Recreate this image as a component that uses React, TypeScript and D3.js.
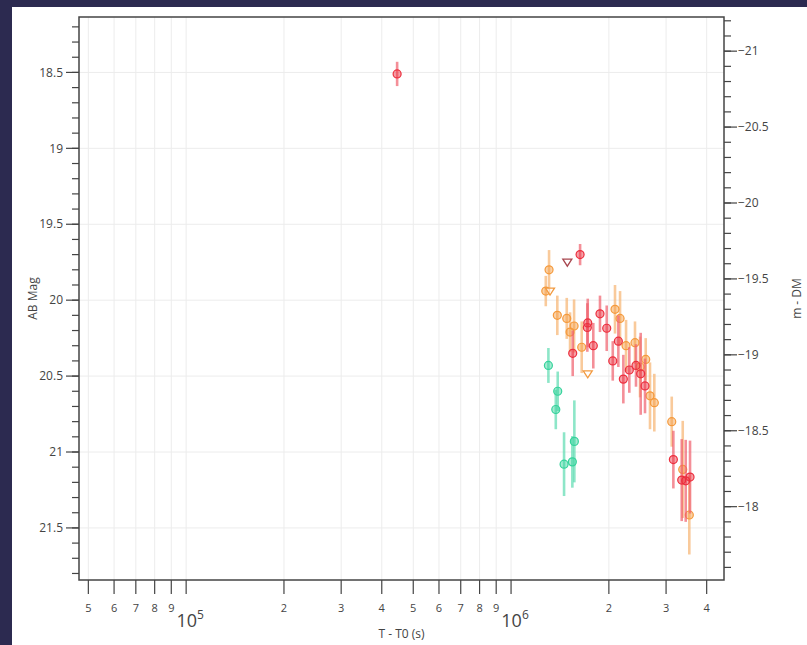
import React from 'react';
import * as d3 from 'd3';

// ---- data (T - T0 in seconds, AB magnitude, 1-sigma error) ----
const redT = [4.46e5, 1.631e6, 1.548e6, 1.722e6, 1.717e6, 1.791e6, 1.878e6, 1.97e6, 2.056e6, 2.139e6, 2.216e6, 2.312e6, 2.424e6, 2.506e6, 2.584e6, 3.159e6, 3.352e6, 3.448e6, 3.555e6];
const redMag = [18.51, 19.7, 20.35, 20.15, 20.18, 20.3, 20.09, 20.185, 20.4, 20.27, 20.52, 20.46, 20.43, 20.485, 20.565, 21.05, 21.185, 21.19, 21.165];
const redErr = [0.08, 0.07, 0.15, 0.16, 0.16, 0.15, 0.12, 0.15, 0.13, 0.17, 0.16, 0.15, 0.14, 0.27, 0.18, 0.19, 0.27, 0.27, 0.24];

const orangeT = [1.309e6, 1.279e6, 1.388e6, 1.484e6, 1.519e6, 1.563e6, 1.65e6, 2.089e6, 2.165e6, 2.259e6, 2.407e6, 2.494e6, 2.597e6, 2.677e6, 2.76e6, 3.123e6, 3.376e6, 3.537e6];
const orangeMag = [19.8, 19.94, 20.1, 20.12, 20.21, 20.17, 20.31, 20.06, 20.12, 20.3, 20.28, 20.44, 20.39, 20.63, 20.675, 20.8, 21.115, 21.415];
const orangeErr = [0.13, 0.1, 0.13, 0.135, 0.13, 0.175, 0.17, 0.16, 0.18, 0.17, 0.14, 0.2, 0.14, 0.22, 0.19, 0.165, 0.32, 0.26];

const tealT = [1.303e6, 1.392e6, 1.373e6, 1.566e6, 1.544e6, 1.456e6];
const tealMag = [20.43, 20.6, 20.72, 20.93, 21.065, 21.08];
const tealErr = [0.115, 0.13, 0.13, 0.27, 0.17, 0.21];

// upper limits (downward triangles)
const redLimT = [1.49e6];
const redLimMag = [19.75];
const orangeLimT = [1.318e6, 1.722e6];
const orangeLimMag = [19.94, 20.485];

// axes
const DM = 39.36;
const yTicks = [18.5, 19, 19.5, 20, 20.5, 21, 21.5];
const y2Ticks = [-21, -20.5, -20, -19.5, -19, -18.5, -18];
const xTicks = [5e4, 6e4, 7e4, 8e4, 9e4, 1e5, 2e5, 3e5, 4e5, 5e5, 6e5, 7e5, 8e5, 9e5, 1e6, 2e6, 3e6, 4e6];

const W = 807, H = 645;
const L = 79, R = 724, T = 17, B = 580;
const FONT = '"Open Sans", "DejaVu Sans", sans-serif';
const TXT = '#444';

const x = d3.scaleLog().domain([Math.pow(10, 4.6702), Math.pow(10, 6.6554)]).range([L, R]);
const y = d3.scaleLinear().domain([18.135, 21.843]).range([T, B]);
const y2 = d3.scaleLinear().domain([18.135 - DM, 21.843 - DM]).range([T, B]);

function minorTicks(lo: number, hi: number, step: number) {
  const a: number[] = [];
  const s = Math.ceil(Math.min(lo, hi) / step - 1e-9);
  const e = Math.floor(Math.max(lo, hi) / step + 1e-9);
  for (let i = s; i <= e; i++) a.push(+(i * step).toFixed(4));
  return a;
}

const yMinor = minorTicks(18.135, 21.843, 0.1);
const y2Minor = minorTicks(18.135 - DM, 21.843 - DM, 0.1);

function Series({ t, m, e, color, bar }: { t: number[]; m: number[]; e: number[]; color: string; bar: string }) {
  return (
    <g>
      {t.map((tv, i) => (
        <line key={'e' + i} x1={x(tv)} x2={x(tv)} y1={y(m[i] - e[i])} y2={y(m[i] + e[i])}
          stroke={bar} strokeWidth={2.6} strokeOpacity={0.7} />
      ))}
      {t.map((tv, i) => (
        <circle key={'c' + i} cx={x(tv)} cy={y(m[i])} r={4}
          fill={color} fillOpacity={0.45} stroke={color} strokeWidth={1.2} />
      ))}
    </g>
  );
}

function Limits({ t, m, color }: { t: number[]; m: number[]; color: string }) {
  return (
    <g>
      {t.map((tv, i) => {
        const cx = x(tv), cy = y(m[i]);
        const p = d3.path();
        p.moveTo(cx - 4.5, cy - 3);
        p.lineTo(cx + 4.5, cy - 3);
        p.lineTo(cx, cy + 4);
        p.closePath();
        return <path key={i} d={p.toString()} fill="white" fillOpacity={0.6} stroke={color} strokeWidth={1.3} />;
      })}
    </g>
  );
}

export default function App() {
  const fmtY = (v: number) => String(v);
  const fmtY2 = (v: number) => String(v).replace('-', '\u2212');
  return (
    <svg width={W} height={H} style={{ position: 'fixed', left: 0, top: 0, display: 'block' }}
      fontFamily={FONT}>
      <rect x={0} y={0} width={W} height={H} fill="#2c2a50" />
      <rect x={12} y={7} width={W - 12} height={H - 7} fill="#ffffff" />

      {/* grid */}
      <g stroke="#ececec" strokeWidth={1}>
        {xTicks.map((v, i) => <line key={'gx' + i} x1={x(v)} x2={x(v)} y1={T} y2={B} />)}
        {yTicks.map((v, i) => <line key={'gy' + i} x1={L} x2={R} y1={y(v)} y2={y(v)} />)}
      </g>

      {/* data */}
      <Series t={tealT} m={tealMag} e={tealErr} color="#36d39c" bar="#5cdcb0" />
      <Series t={orangeT} m={orangeMag} e={orangeErr} color="#f59a3c" bar="#f7b470" />
      <Series t={redT} m={redMag} e={redErr} color="#ec2f3e" bar="#f0606c" />
      <Limits t={redLimT} m={redLimMag} color="#a8474f" />
      <Limits t={orangeLimT} m={orangeLimMag} color="#f29a40" />

      {/* frame */}
      <rect x={L} y={T} width={R - L} height={B - T} fill="none" stroke="#444" strokeWidth={1.5} />

      {/* left axis */}
      <g stroke="#444" strokeWidth={1.2}>
        {yMinor.map((v, i) => <line key={'ym' + i} x1={L - 7} x2={L} y1={y(v)} y2={y(v)} />)}
        {yTicks.map((v, i) => <line key={'yM' + i} x1={L - 13} x2={L} y1={y(v)} y2={y(v)} />)}
      </g>
      <g fontSize={12} fill={TXT} textAnchor="end">
        {yTicks.map((v, i) => <text key={'yl' + i} x={L - 16} y={y(v)} dy="0.35em">{fmtY(v)}</text>)}
      </g>
      <text transform={`translate(33,${(T + B) / 2}) rotate(-90)`} textAnchor="middle" dy="0.35em"
        fontSize={12} fill={TXT}>AB Mag</text>

      {/* right axis */}
      <g stroke="#444" strokeWidth={1.2}>
        {y2Minor.map((v, i) => <line key={'y2m' + i} x1={R} x2={R + 7} y1={y2(v)} y2={y2(v)} />)}
        {y2Ticks.map((v, i) => <line key={'y2M' + i} x1={R} x2={R + 13} y1={y2(v)} y2={y2(v)} />)}
      </g>
      <g fontSize={12} fill={TXT} textAnchor="start">
        {y2Ticks.map((v, i) => <text key={'y2l' + i} x={R + 14} y={y2(v)} dy="0.35em">{fmtY2(v)}</text>)}
      </g>
      <text transform={`translate(797,${(T + B) / 2}) rotate(-90)`} textAnchor="middle" dy="0.35em"
        fontSize={12} fill={TXT}>m - DM</text>

      {/* bottom axis */}
      <g stroke="#444" strokeWidth={1.2}>
        {xTicks.map((v, i) => <line key={'xt' + i} x1={x(v)} x2={x(v)} y1={B} y2={B + 14} />)}
      </g>
      <g fill={TXT} textAnchor="middle">
        {xTicks.map((v, i) => {
          const lg = Math.log10(v);
          const isPow = Math.abs(lg - Math.round(lg)) < 1e-9;
          if (isPow) {
            return (
              <text key={'xl' + i} x={x(v) + 4} y={627} fontSize={18}>
                10<tspan dy={-8} fontSize={12}>{Math.round(lg)}</tspan>
              </text>
            );
          }
          const d = Math.round(v / Math.pow(10, Math.floor(lg)));
          return <text key={'xl' + i} x={x(v)} y={612} fontSize={11}>{d}</text>;
        })}
      </g>
      <text x={(L + R) / 2} y={638} textAnchor="middle" fontSize={12} fill={TXT}>T - T0 (s)</text>
    </svg>
  );
}
